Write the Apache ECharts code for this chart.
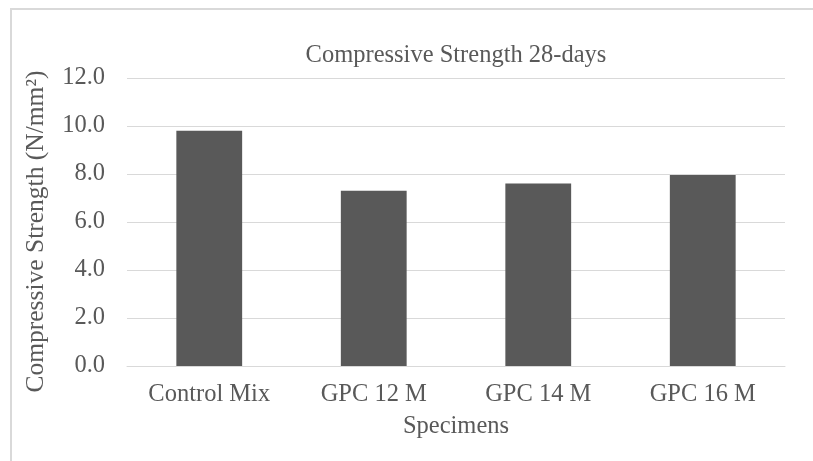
<!DOCTYPE html>
<html><head><meta charset="utf-8">
<script src="https://cdn.jsdelivr.net/npm/echarts@6/dist/echarts.min.js"></script>
<style>html,body{margin:0;padding:0;background:#fff}#c{width:813px;height:461px}</style>
</head><body><div id="c"></div>
<script>
const categories = ['Control Mix', 'GPC 12 M', 'GPC 14 M', 'GPC 16 M'];
const strength = [9.8, 7.3, 7.6, 7.96];
const chartTitle = 'Compressive Strength 28-days';
const yName = 'Compressive Strength (N/mm²)';
const xName = 'Specimens';

const font = '"Liberation Serif", "Times New Roman", serif';
const fs = 24.5;
const chart = echarts.init(document.getElementById('c'));
chart.setOption({
  animation: false,
  graphic: [{type: 'rect', shape: {x: 11, y: 9, width: 820, height: 470}, style: {fill: 'none', stroke: '#d9d9d9', lineWidth: 2}, silent: true}],
  title: {text: chartTitle, left: 451, textAlign: 'center', top: 38, textStyle: {fontFamily: font, fontSize: fs, fontWeight: 'normal', color: '#595959'}},
  grid: {left: 127, right: 28, top: 78, bottom: 95},
  xAxis: {
    type: 'category', data: categories,
    name: xName, nameLocation: 'middle', nameGap: 48,
    nameTextStyle: {fontFamily: font, fontSize: fs, color: '#595959'},
    axisLine: {lineStyle: {color: '#d9d9d9', width: 1}},
    axisTick: {show: false},
    axisLabel: {fontFamily: font, fontSize: fs, color: '#595959', margin: 16}
  },
  yAxis: {
    type: 'value', min: 0, max: 12, interval: 2,
    name: yName, nameLocation: 'middle', nameGap: 78, nameRotate: 90,
    nameTextStyle: {fontFamily: font, fontSize: 25.5, color: '#595959', padding: [0, 19, 0, 0]},
    axisLine: {show: false}, axisTick: {show: false},
    splitLine: {lineStyle: {color: '#d9d9d9', width: 1}},
    axisLabel: {fontFamily: font, fontSize: fs, color: '#595959', margin: 22, formatter: v => v.toFixed(1)}
  },
  series: [{type: 'bar', data: strength, barWidth: '40%', itemStyle: {color: '#595959'}}]
});
</script></body></html>
